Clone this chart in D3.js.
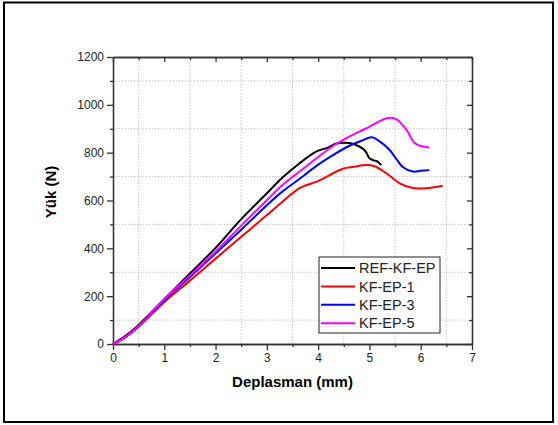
<!DOCTYPE html>
<html>
<head>
<meta charset="utf-8">
<script src="https://cdn.jsdelivr.net/npm/d3@7"></script>
<style>
  body { margin: 0; background: #fff; }
  svg { display: block; font-family: Arial, "Liberation Sans", sans-serif; }
</style>
</head>
<body>
<svg width="558" height="425"></svg>
<script>
// load-displacement curves: [mm, N]
const refKfEp = [[0, 0], [0.25, 35], [0.5, 80], [1, 187], [1.5, 295], [2, 402], [2.5, 522], [3, 630], [3.3, 695], [3.64, 756], [3.97, 805], [4.2, 822], [4.36, 838], [4.61, 840], [4.78, 828], [4.88, 815], [4.94, 800], [5.0, 777], [5.08, 768], [5.16, 763], [5.23, 748]];
const kfEp1 = [[0, 0], [0.25, 30], [0.5, 73], [1, 175], [1.5, 265], [2, 357], [2.5, 448], [3, 539], [3.3, 594], [3.64, 652], [4.0, 681], [4.48, 733], [4.7, 741], [4.94, 748], [5.1, 743], [5.33, 714], [5.59, 672], [5.85, 652], [6.1, 651], [6.43, 662]];
const kfEp3 = [[0, 0], [0.25, 30], [0.5, 73], [1, 182], [1.5, 280], [2, 378], [2.5, 478], [3, 580], [3.3, 637], [3.64, 691], [4.0, 750], [4.29, 790], [4.61, 829], [4.85, 850], [5.04, 864], [5.2, 847], [5.39, 812], [5.52, 775], [5.65, 740], [5.85, 721], [6.0, 724], [6.17, 727]];
const kfEp5 = [[0, 0], [0.25, 31], [0.5, 75], [1, 188], [1.5, 287], [2, 387], [2.5, 495], [3, 601], [3.3, 664], [3.64, 721], [4.0, 782], [4.29, 828], [4.5, 855], [4.81, 889], [5.0, 908], [5.2, 932], [5.36, 945], [5.52, 940], [5.72, 896], [5.88, 840], [6.0, 828], [6.17, 822]];

const seriesNames = ["REF-KF-EP", "KF-EP-1", "KF-EP-3", "KF-EP-5"];
const seriesData = [refKfEp, kfEp1, kfEp3, kfEp5];
const seriesColors = ["#000000", "#ff0000", "#0000ff", "#ff00ff"];

const xMajor = [0, 1, 2, 3, 4, 5, 6, 7];
const xMinor = [0.5, 1.5, 2.5, 3.5, 4.5, 5.5, 6.5];
const yMajor = [0, 200, 400, 600, 800, 1000, 1200];
const yMinor = [100, 300, 500, 700, 900, 1100];

const svg = d3.select("svg");

svg.append("rect")
  .attr("x", 4).attr("y", 2.5)
  .attr("width", 549).attr("height", 419.5)
  .attr("fill", "none")
  .attr("stroke", "#000")
  .attr("stroke-width", 2);

const plotLeft = 113, plotRight = 472, plotTop = 57, plotBottom = 344;

const x = d3.scaleLinear().domain([0, 7]).range([plotLeft, plotRight]);
const y = d3.scaleLinear().domain([0, 1200]).range([plotBottom, plotTop]);

const axisColor = "#333";

// dotted grid at the minor positions
const grid = svg.append("g")
  .attr("stroke", "#c8c8c8")
  .attr("stroke-width", 1)
  .attr("stroke-dasharray", "1.5,1.5");

grid.selectAll(".gx").data(xMinor).join("line")
  .attr("x1", d => x(d)).attr("x2", d => x(d))
  .attr("y1", plotTop).attr("y2", plotBottom);

grid.selectAll(".gy").data(yMinor).join("line")
  .attr("x1", plotLeft).attr("x2", plotRight)
  .attr("y1", d => y(d)).attr("y2", d => y(d));

// bottom axis
const xAxis = svg.append("g")
  .attr("transform", `translate(0,${plotBottom})`)
  .call(d3.axisBottom(x).tickValues(xMajor).tickSize(6).tickSizeOuter(0).tickPadding(3).tickFormat(d3.format("d")));

const xMinorAxis = svg.append("g")
  .attr("transform", `translate(0,${plotBottom})`)
  .call(d3.axisBottom(x).tickValues(xMinor).tickSize(3).tickSizeOuter(0).tickFormat(""));

// left axis
const yAxis = svg.append("g")
  .attr("transform", `translate(${plotLeft},0)`)
  .call(d3.axisLeft(y).tickValues(yMajor).tickSize(6).tickSizeOuter(0).tickPadding(3).tickFormat(d3.format("d")));

const yMinorAxis = svg.append("g")
  .attr("transform", `translate(${plotLeft},0)`)
  .call(d3.axisLeft(y).tickValues(yMinor).tickSize(3).tickSizeOuter(0).tickFormat(""));

// top and right mirror axes, ticks pointing in
const xTop = svg.append("g")
  .attr("transform", `translate(0,${plotTop})`)
  .call(d3.axisBottom(x).tickValues(xMajor).tickSize(5).tickSizeOuter(0).tickFormat(""));

const xTopMinor = svg.append("g")
  .attr("transform", `translate(0,${plotTop})`)
  .call(d3.axisBottom(x).tickValues(xMinor).tickSize(3).tickSizeOuter(0).tickFormat(""));

const yRight = svg.append("g")
  .attr("transform", `translate(${plotRight},0)`)
  .call(d3.axisLeft(y).tickValues(yMajor).tickSize(5).tickSizeOuter(0).tickFormat(""));

const yRightMinor = svg.append("g")
  .attr("transform", `translate(${plotRight},0)`)
  .call(d3.axisLeft(y).tickValues(yMinor).tickSize(3).tickSizeOuter(0).tickFormat(""));

[xAxis, xMinorAxis, yAxis, yMinorAxis, xTop, xTopMinor, yRight, yRightMinor].forEach(a => {
  a.selectAll("path, line").attr("stroke", axisColor).attr("stroke-width", 1.3);
  a.selectAll("text").attr("fill", "#222").style("font-size", "12px");
});

// lines
const line = d3.line()
  .x(d => x(d[0]))
  .y(d => y(d[1]))
  .curve(d3.curveCatmullRom);

svg.append("g")
  .selectAll("path")
  .data(seriesData)
  .join("path")
  .attr("d", line)
  .attr("fill", "none")
  .attr("stroke", (d, i) => seriesColors[i])
  .attr("stroke-width", 2)
  .attr("stroke-linejoin", "round");

// titles
svg.append("text")
  .attr("x", (plotLeft + plotRight) / 2)
  .attr("y", 387)
  .attr("text-anchor", "middle")
  .style("font-size", "15px")
  .style("font-weight", "bold")
  .text("Deplasman (mm)");

svg.append("text")
  .attr("transform", `translate(56, 192) rotate(-90)`)
  .attr("text-anchor", "middle")
  .style("font-size", "15px")
  .style("font-weight", "bold")
  .text("Yük (N)");

// legend
const legend = svg.append("g").attr("transform", "translate(319,257)");

legend.append("rect")
  .attr("width", 121).attr("height", 76)
  .attr("fill", "#fff")
  .attr("stroke", "#222")
  .attr("stroke-width", 1);

const rows = legend.selectAll(".row")
  .data(seriesNames)
  .join("g")
  .attr("transform", (d, i) => `translate(0,${11 + i * 18.4})`);

rows.append("line")
  .attr("x1", 2).attr("x2", 36)
  .attr("stroke", (d, i) => seriesColors[i])
  .attr("stroke-width", 2);

rows.append("text")
  .attr("x", 40)
  .attr("dy", "0.36em")
  .style("font-size", "14.5px")
  .attr("fill", "#222")
  .text(d => d);
</script>
</body>
</html>
